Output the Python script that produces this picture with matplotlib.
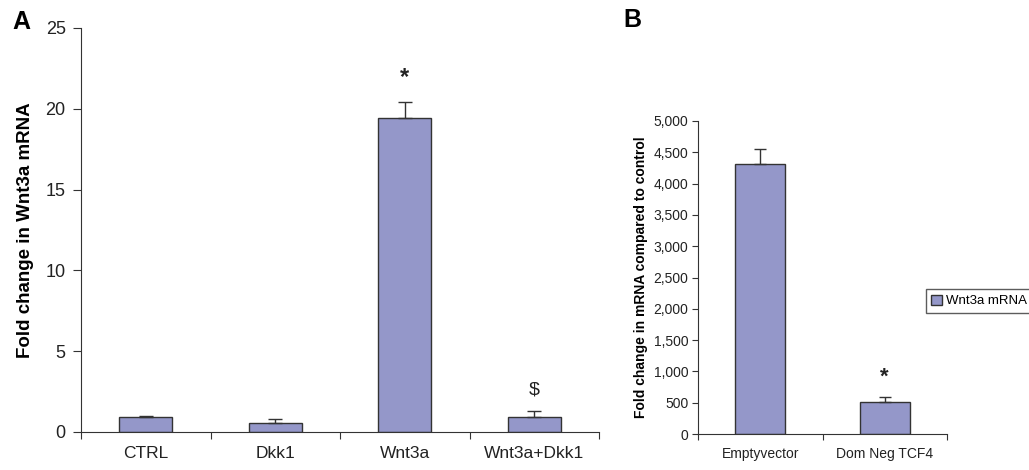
import matplotlib.pyplot as plt
import numpy as np

# panel A data
cats_a = ['CTRL', 'Dkk1', 'Wnt3a', 'Wnt3a+Dkk1']
vals_a = [0.93, 0.54, 19.4, 0.9]
errs_a = [0.06, 0.26, 1.03, 0.4]
marks_a = ['', '', '*', '$']

# panel B data
cats_b = ['Emptyvector', 'Dom Neg TCF4']
vals_b = [4313, 506]
errs_b = [240, 90]
marks_b = ['', '*']

bar_col = '#9497c9'
edge_col = '#333333'

plt.rcParams['font.family'] = ['Liberation Sans', 'DejaVu Sans']

fig = plt.figure(figsize=(10.29, 4.70), dpi=100)

# ---- panel A
ax = fig.add_axes([81/1029, 1-432/470, (599-81)/1029, (432-28)/470])
x = np.arange(len(cats_a))
ax.bar(x, vals_a, width=0.41, color=bar_col, edgecolor=edge_col, linewidth=1.0, zorder=2)
ax.errorbar(x, vals_a, yerr=[np.zeros(len(errs_a)), errs_a], fmt='none',
            ecolor=edge_col, elinewidth=1.0, capsize=5, capthick=1.0, zorder=3)
for xi, v, e, m in zip(x, vals_a, errs_a, marks_a):
    if m:
        ax.text(xi, v + e + 0.8, m, ha='center', va='bottom',
                fontsize=17 if m == '*' else 14,
                fontweight='bold' if m == '*' else 'normal', color='#222222')
ax.set_xlim(-0.5, 3.5)
ax.set_ylim(0, 25)
ax.set_yticks([0, 5, 10, 15, 20, 25])
ax.set_xticks(np.arange(-0.5, 3.6, 1))
ax.set_xticklabels([])
ax.tick_params(axis='x', length=5, direction='out', color=edge_col)
ax.tick_params(axis='y', length=6, direction='out', labelsize=13, color=edge_col,
               labelcolor='#222222', pad=5)
for i, c in enumerate(cats_a):
    ax.text(i, -0.85, c, ha='center', va='top', fontsize=12.5, color='#222222')
ax.spines['top'].set_visible(False)
ax.spines['right'].set_visible(False)
ax.spines['left'].set_color(edge_col)
ax.spines['bottom'].set_color(edge_col)
ax.set_ylabel('Fold change in Wnt3a mRNA', fontsize=13.5, fontweight='bold', labelpad=8)
fig.text(12/1029, 1-22/470, 'A', fontsize=18, fontweight='bold', va='center')

# ---- panel B
bx = fig.add_axes([698/1029, 1-434/470, (947-698)/1029, (434-121)/470])
xb = np.arange(len(cats_b))
bx.bar(xb, vals_b, width=0.4, color=bar_col, edgecolor=edge_col, linewidth=1.0,
       label='Wnt3a mRNA', zorder=2)
bx.errorbar(xb, vals_b, yerr=[np.zeros(len(errs_b)), errs_b], fmt='none',
            ecolor=edge_col, elinewidth=1.0, capsize=4, capthick=1.0, zorder=3)
for xi, v, e, m in zip(xb, vals_b, errs_b, marks_b):
    if m:
        bx.text(xi, v + e + 150, m, ha='center', va='bottom', fontsize=16,
                fontweight='bold', color='#222222')
bx.set_xlim(-0.5, 1.5)
bx.set_ylim(0, 5000)
bx.set_yticks(np.arange(0, 5001, 500))
bx.set_yticklabels(['{:,}'.format(t) for t in range(0, 5001, 500)])
bx.set_xticks([-0.5, 0.5, 1.5])
bx.set_xticklabels([])
bx.tick_params(axis='x', length=4, direction='out', color=edge_col)
bx.tick_params(axis='y', length=4, direction='out', labelsize=10, color=edge_col,
               labelcolor='#222222', pad=3)
for i, c in enumerate(cats_b):
    bx.text(i, -210, c, ha='center', va='top', fontsize=10, color='#222222')
bx.spines['top'].set_visible(False)
bx.spines['right'].set_visible(False)
bx.spines['left'].set_color(edge_col)
bx.spines['bottom'].set_color(edge_col)
bx.set_ylabel('Fold change in mRNA compared to control', fontsize=10,
              fontweight='bold', labelpad=4)
leg = bx.legend(loc='center left', bbox_to_anchor=(926/1029, 1-301/470),
                bbox_transform=fig.transFigure, fontsize=9.5, frameon=True,
                fancybox=False, handlelength=0.8, handleheight=0.8,
                handletextpad=0.3, borderpad=0.4, borderaxespad=0)
leg.get_frame().set_edgecolor('#333333')
leg.get_frame().set_linewidth(1.0)
fig.text(623/1029, 1-20/470, 'B', fontsize=18, fontweight='bold', va='center')

fig.savefig('out.png', dpi=100)
